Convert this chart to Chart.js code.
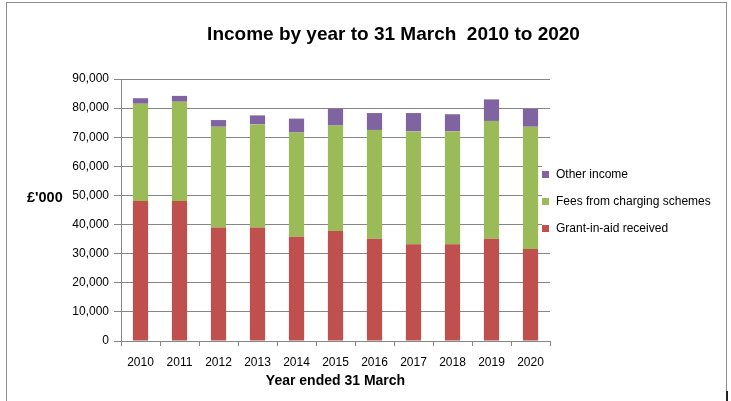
<!DOCTYPE html>
<html>
<head>
<meta charset="utf-8">
<script src="https://cdn.jsdelivr.net/npm/chart.js@4/dist/chart.umd.min.js"></script>
<style>
  body { margin: 0; background: #fff; }
  #wrap { position: relative; width: 731px; height: 401px; overflow: hidden; }
  #frame { position: absolute; left: 6px; top: 2px; width: 719px; height: 420px; border: 1px solid #8c8c8c; pointer-events: none; }
  #mark { position: absolute; left: 726px; top: 391px; width: 2px; height: 10px; background: #222; }
</style>
</head>
<body>
<div id="wrap">
  <canvas id="chart" width="731" height="401"></canvas>
  <div id="frame"></div>
  <div id="mark"></div>
</div>
<script>
const years = ['2010', '2011', '2012', '2013', '2014', '2015', '2016', '2017', '2018', '2019', '2020'];
const grantInAid = [48100, 48100, 39000, 39000, 35800, 37800, 35100, 33200, 33200, 35100, 31600];
const fees = [33400, 34100, 34600, 35400, 35800, 36200, 37400, 38800, 38800, 40500, 42000];
const otherIncome = [1900, 2000, 2300, 3100, 4800, 5800, 5800, 6300, 5900, 7400, 6100];
const yTicks = [0, 10000, 20000, 30000, 40000, 50000, 60000, 70000, 80000, 90000];

const gridColour = '#868686';
const labelFont = { family: 'Liberation Sans, Arial, sans-serif', size: 12 };

// legend drawn over the right edge of the plot, like the spreadsheet original
const sideLegend = {
  id: 'sideLegend',
  afterDraw(chart) {
    const ctx = chart.ctx;
    const items = chart.data.datasets.slice().reverse();
    ctx.save();
    ctx.fillStyle = '#fff';
    ctx.fillRect(542, 158, 180, 82);
    ctx.font = '12px Liberation Sans, Arial, sans-serif';
    ctx.textBaseline = 'middle';
    items.forEach((ds, i) => {
      const y = 175 + i * 27;
      ctx.fillStyle = ds.backgroundColor;
      ctx.fillRect(542, y - 4, 7, 7);
      ctx.fillStyle = '#000';
      ctx.fillText(ds.label, 556, y);
    });
    // y axis caption, written level
    ctx.font = 'bold 14.5px Liberation Sans, Arial, sans-serif';
    ctx.fillText("£'000", 27, 198);
    ctx.restore();
  }
};

new Chart(document.getElementById('chart'), {
  type: 'bar',
  data: {
    labels: years,
    datasets: [
      { label: 'Grant-in-aid received', data: grantInAid, backgroundColor: '#C0504D' },
      { label: 'Fees from charging schemes', data: fees, backgroundColor: '#9BBB59' },
      { label: 'Other income', data: otherIncome, backgroundColor: '#8064A2' }
    ]
  },
  options: {
    responsive: false,
    animation: false,
    layout: { padding: { left: 71, right: 15, top: 0, bottom: 0 } },
    datasets: { bar: { categoryPercentage: 1, barPercentage: 0.39 } },
    plugins: {
      legend: { display: false },
      tooltip: { enabled: false },
      title: {
        display: true,
        text: 'Income by year to 31 March  2010 to 2020',
        color: '#000',
        font: { family: 'Liberation Sans, Arial, sans-serif', size: 19, weight: 'bold', lineHeight: 1.2 },
        padding: { top: 23, bottom: 33.2 }
      }
    },
    scales: {
      x: {
        stacked: true,
        afterFit: (s) => { s.height = 60; },
        grid: { display: true, drawOnChartArea: false, color: gridColour, tickLength: 5 },
        border: { color: gridColour },
        ticks: { color: '#000', font: labelFont, padding: 9 },
        title: {
          display: true,
          text: 'Year ended 31 March',
          color: '#000',
          font: { family: 'Liberation Sans, Arial, sans-serif', size: 14, weight: 'bold' },
          padding: { top: 0, bottom: 11 }
        }
      },
      y: {
        stacked: true,
        min: 0,
        max: 90000,
        afterFit: (s) => { s.width = 50; },
        afterBuildTicks: (s) => { s.ticks = yTicks.map((v) => ({ value: v })); },
        grid: { color: gridColour, tickLength: 7 },
        border: { color: gridColour },
        ticks: {
          color: '#000',
          font: labelFont,
          padding: 5,
          callback: (v) => v.toLocaleString('en-GB')
        }
      },
      side: {
        position: 'right',
        min: 0,
        max: 1,
        afterFit: (s) => { s.width = 166; },
        grid: { display: false },
        border: { display: false },
        ticks: { display: false }
      }
    }
  },
  plugins: [sideLegend]
});
</script>
</body>
</html>
